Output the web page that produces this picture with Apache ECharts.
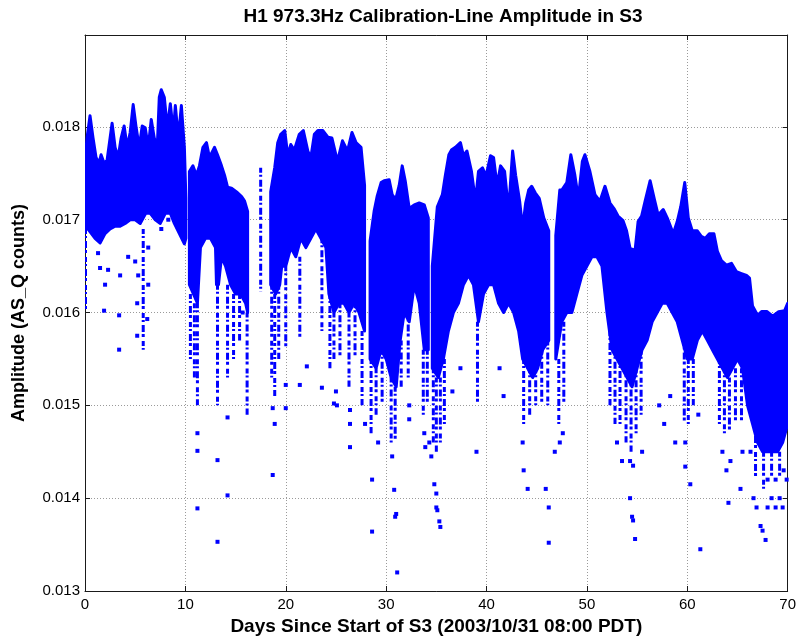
<!DOCTYPE html>
<html>
<head>
<meta charset="utf-8">
<script src="https://cdn.jsdelivr.net/npm/echarts@6/dist/echarts.min.js"></script>
<style>
html,body{margin:0;padding:0;background:#ffffff;}
#chart{width:799px;height:642px;}
</style>
</head>
<body>
<div id="chart"></div>
<script>
// ---- text ----
const titleText = 'H1 973.3Hz Calibration-Line Amplitude in S3';
const xAxisName = 'Days Since Start of S3 (2003/10/31 08:00 PDT)';
const yAxisName = 'Amplitude (AS_Q counts)';

// ---- axis ranges ----
const xRange = [0, 70, 10];
const yRange = [0.013, 0.01899, 0.001];

// ---- dense core: upper edge of the point cloud [day, amplitude]; null separates observing segments ----
const upperEdge = [
  [0.0,0.01763],[0.2,0.01788],[0.5,0.01812],[0.8,0.01788],[1.1,0.01767],[1.4,0.01761],[1.6,0.0177],[1.9,0.01761],
  [2.2,0.01764],[2.5,0.01788],[2.7,0.01804],[3.0,0.01778],[3.3,0.01767],[3.6,0.01788],[3.9,0.01801],[4.2,0.01778],
  [4.5,0.01794],[4.8,0.01824],[5.1,0.01799],[5.4,0.01778],[5.7,0.01801],[6.0,0.01799],[6.3,0.01778],[6.6,0.01808],
  [6.9,0.01788],[7.2,0.01778],[7.4,0.01832],[7.6,0.0184],[7.9,0.01832],[8.2,0.01799],[8.5,0.01825],[8.8,0.01794],
  [9.0,0.01823],[9.3,0.01788],[9.6,0.01823],[9.9,0.01778],[10.05,0.01723],
  null,
  [10.4,0.01752],[10.75,0.01758],[11.1,0.01748],[11.4,0.01758],[11.75,0.01778],[12.1,0.01783],[12.4,0.01767],
  [12.9,0.01778],[13.2,0.0177],[13.6,0.01758],[13.9,0.01748],[14.2,0.01735],[14.6,0.01734],[15.1,0.0173],
  [15.6,0.01725],[15.9,0.0172],[16.2,0.01709],
  null,
  [18.5,0.0173],[18.9,0.01756],[19.2,0.01783],[19.5,0.01792],[19.9,0.01796],[20.2,0.01769],[20.5,0.01781],
  [20.85,0.01775],[21.35,0.01792],[21.75,0.01796],[22.2,0.01774],[22.5,0.01767],[22.85,0.01792],[23.2,0.01796],
  [23.7,0.01796],[24.2,0.01789],[24.6,0.01788],[25.15,0.01763],[25.65,0.01785],[26.15,0.01774],[26.6,0.01794],
  [27.0,0.01783],[27.5,0.01778],[27.85,0.01737],
  null,
  [28.4,0.01677],[28.8,0.01709],[29.1,0.01725],[29.5,0.0174],[29.8,0.01742],[30.3,0.01743],[30.6,0.01727],
  [30.95,0.01722],[31.3,0.01737],[31.6,0.01758],[31.9,0.01742],[32.3,0.01712],[32.8,0.01716],[33.3,0.01718],
  [33.8,0.01716],[34.2,0.01702],
  null,
  [34.6,0.0165],[35.1,0.01714],[35.6,0.01727],[35.9,0.01748],[36.25,0.0177],[36.5,0.01775],[36.9,0.01778],
  [37.4,0.01783],[37.7,0.01769],[38.05,0.01774],[38.5,0.01752],[38.9,0.0172],[39.2,0.01752],[39.6,0.01756],
  [39.95,0.01747],[40.4,0.01769],[40.7,0.01767],[41.05,0.01737],[41.4,0.01758],[41.8,0.01752],[42.2,0.01709],
  [42.6,0.01774],[42.9,0.01748],[43.3,0.0172],[43.6,0.01691],[43.9,0.01718],[44.2,0.01732],[44.5,0.01736],
  [44.85,0.01729],[45.25,0.01723],[45.7,0.01702],[46.2,0.01688],
  null,
  [46.9,0.01683],[47.3,0.01732],[47.5,0.01732],[48.0,0.0174],[48.4,0.0177],[48.8,0.01748],[49.15,0.01723],
  [49.55,0.01763],[49.8,0.0177],[50.3,0.01752],[50.8,0.01727],[51.3,0.0172],[51.8,0.01736],[52.3,0.01718],
  [52.7,0.01712],[53.1,0.01704],[53.6,0.01699],[53.95,0.01688],[54.3,0.01669],[54.8,0.01667],[55.1,0.01698],
  [55.45,0.01704],[55.8,0.0172],[56.3,0.01742],[56.7,0.01723],[57.1,0.01705],[57.6,0.01711],[58.0,0.01702],
  [58.6,0.01685],[59.0,0.01698],[59.35,0.01714],[59.75,0.0174],[60.1,0.01702],[60.5,0.01688],[61.0,0.01688],
  [61.4,0.01682],[61.8,0.0168],[62.2,0.01685],[62.65,0.01685],[63.0,0.01666],[63.4,0.01656],[63.9,0.01651],
  [64.4,0.01653],[64.9,0.01644],[65.4,0.01642],[65.9,0.0164],[66.2,0.01637],[66.5,0.01607],[67.0,0.01597],
  [67.4,0.01601],[67.95,0.01601],[68.5,0.01596],[69.1,0.01601],[69.7,0.01602],[70.0,0.0161]
];

// ---- dense core: lower edge of the point cloud ----
const lowerEdge = [
  [0.0,0.0169],[0.3,0.0169],[1.0,0.0168],[1.5,0.01675],[2.0,0.01685],[2.5,0.0169],[3.0,0.01693],
  [3.5,0.01693],[4.0,0.01696],[4.5,0.017],[5.0,0.017],[5.5,0.01696],[6.05,0.01707],
  [6.5,0.01707],[7.0,0.017],[7.5,0.01696],[8.0,0.01707],[8.5,0.01707],[8.9,0.01696],[9.4,0.01685],[9.9,0.01674],
  [10.05,0.0168],
  null,
  [10.4,0.0163],[10.8,0.0162],[11.2,0.0161],[11.5,0.0167],[12.0,0.0168],[12.5,0.0168],[13.0,0.0167],[13.1,0.0163],
  [13.3,0.0163],[13.6,0.0166],[14.0,0.0165],[14.5,0.0163],[15.0,0.0162],[15.5,0.0162],[16.0,0.0161],[16.2,0.016],
  null,
  [18.5,0.0163],[19.0,0.0162],[19.4,0.0163],[19.6,0.0165],[20.0,0.0165],[20.5,0.0167],[21.0,0.0166],[21.5,0.0168],
  [22.0,0.0167],[22.5,0.0168],[23.0,0.0169],[23.5,0.0168],[24.0,0.0167],[24.3,0.0162],[24.8,0.016],[25.3,0.0161],
  [25.8,0.0161],[26.3,0.016],[26.8,0.0161],[27.3,0.016],[27.85,0.0158],
  null,
  [28.4,0.0155],[29.0,0.0154],[29.5,0.0156],[30.0,0.0155],[30.5,0.0153],[31.0,0.0152],[31.4,0.0157],[31.8,0.016],
  [32.3,0.0159],[32.8,0.0163],[33.3,0.0161],[33.8,0.0156],[34.2,0.0156],
  null,
  [34.6,0.0154],[35.2,0.0153],[35.7,0.0155],[36.2,0.0158],[36.7,0.016],[37.2,0.0161],[37.7,0.0163],[38.2,0.0164],
  [38.7,0.0163],[39.2,0.0159],[39.7,0.0162],[40.2,0.0163],[40.7,0.0163],[41.2,0.0161],[41.7,0.016],[42.2,0.0161],
  [42.7,0.016],[43.2,0.0158],[43.6,0.0155],[44.1,0.0154],[44.6,0.0153],[45.1,0.0154],[45.6,0.0156],[46.2,0.0157],
  null,
  [46.9,0.0155],[47.5,0.0159],[48.0,0.016],[48.5,0.016],[49.0,0.0162],[49.5,0.0164],[50.0,0.0165],[50.5,0.0166],
  [51.0,0.0166],[51.5,0.0165],[52.0,0.016],[52.5,0.0156],[53.0,0.0155],[53.5,0.0154],[54.0,0.0153],[54.5,0.0152],
  [55.0,0.0154],[55.5,0.0156],[56.0,0.0157],[56.5,0.0159],[57.0,0.016],[57.5,0.0161],[58.0,0.0161],[58.5,0.016],
  [59.0,0.0159],[59.5,0.0157],[60.0,0.0155],[60.5,0.0155],[61.0,0.0157],[61.5,0.0158],[62.0,0.0157],[62.5,0.0156],
  [63.0,0.0155],[63.5,0.0154],[64.0,0.0153],[64.5,0.0154],[65.0,0.0155],[65.5,0.0154],[66.0,0.015],[66.5,0.0148],
  [67.0,0.0146],[67.5,0.0145],[68.0,0.0145],[68.5,0.0145],[69.0,0.0145],[69.5,0.0146],[70.0,0.0148]
];

// ---- sparse vertical columns of points below the core ----
const streakDays = [0.05,5.8,10.5,10.9,11.2,13.2,14.2,14.8,15.4,16.15,17.5,18.6,18.9,19.3,20.0,21.4,23.6,24.4,24.8,
  25.4,26.3,26.9,27.6,28.5,29.0,29.6,30.5,30.9,31.5,32.2,33.7,34.1,34.7,35.0,35.4,35.8,39.1,43.7,44.3,44.9,45.5,
  46.1,47.2,47.7,52.3,52.8,53.3,53.9,54.4,54.9,55.4,59.7,60.1,60.6,63.2,63.7,64.2,64.8,65.4,66.8,67.6,68.4,69.2];
const streakTop = [0.0169,0.0169,0.0162,0.0161,0.0161,0.0163,0.0163,0.0162,0.0162,0.016,0.01756,0.0163,0.0162,0.0163,
  0.0165,0.0166,0.0168,0.0162,0.016,0.0161,0.016,0.0161,0.0158,0.0155,0.0154,0.0156,0.0153,0.0152,0.0157,0.016,
  0.0156,0.0156,0.0154,0.0153,0.0153,0.0155,0.0159,0.0155,0.0154,0.0154,0.0156,0.0157,0.0155,0.0159,0.0158,0.0156,
  0.0155,0.0154,0.0153,0.0154,0.0156,0.0157,0.0155,0.0155,0.0155,0.0154,0.0153,0.0154,0.0154,0.0148,0.0145,0.0145,
  0.0145];
const streakBottom = [0.016,0.0156,0.0155,0.0153,0.015,0.015,0.0153,0.0155,0.0157,0.0149,0.01622,0.0153,0.0151,0.0155,
  0.0156,0.0157,0.0158,0.0154,0.0155,0.0155,0.0152,0.0155,0.015,0.0147,0.0149,0.015,0.0146,0.0146,0.0152,0.0153,
  0.0149,0.015,0.0146,0.0145,0.0146,0.0148,0.015,0.0148,0.0149,0.015,0.015,0.015,0.0148,0.015,0.015,0.0148,0.0148,
  0.0146,0.0145,0.0147,0.0149,0.0148,0.0148,0.015,0.0148,0.0147,0.0147,0.0148,0.0148,0.0142,0.0141,0.0142,0.0142];

// ---- individual scattered points [day, amplitude] ----
const outliers = [
  [1.3,0.01664],[1.5,0.01648],[1.9,0.01602],[2.0,0.0163],[2.3,0.01646],[3.4,0.01597],
  [3.4,0.0156],[3.5,0.0164],[4.3,0.0166],[5.0,0.01655],[5.2,0.0161],[5.2,0.01575],[5.3,0.0164],
  [6.2,0.01593],[6.3,0.0163],[6.3,0.0167],[7.6,0.0169],[8.3,0.017],
  [11.2,0.0147],[11.2,0.01451],[11.2,0.01389],
  [13.2,0.01441],[13.2,0.01353],
  [14.2,0.01487],[14.2,0.01403],[15.7,0.016],
  [18.7,0.01497],[18.9,0.0148],[18.7,0.01425],
  [20.0,0.01522],[20.0,0.01497],[21.4,0.01522],[22.1,0.01542],[23.6,0.01519],
  [24.8,0.01502],[25.0,0.01515],[25.1,0.015],
  [26.4,0.01495],[26.4,0.0148],[26.4,0.01455],[27.9,0.0148],
  [28.6,0.0142],[28.6,0.01364],[29.2,0.0146],
  [30.6,0.01445],[30.8,0.01409],[30.9,0.0138],[31.0,0.01383],[31.1,0.0132],
  [32.3,0.015],[32.3,0.01485],[33.8,0.0147],[33.9,0.01455],
  [34.3,0.0146],[34.5,0.01445],[34.8,0.01415],[35.0,0.01405],[35.0,0.0139],[35.1,0.01387],[35.3,0.01375],
  [35.4,0.01369],
  [36.6,0.01515],[37.4,0.0154],[39.0,0.0145],[41.3,0.0154],[41.7,0.0151],
  [43.6,0.0146],[43.7,0.0143],[44.1,0.0141],[45.9,0.0141],[46.2,0.01352],[46.2,0.0139],[46.8,0.0145],
  [47.3,0.0146],[47.6,0.0147],
  [53.0,0.0146],[53.5,0.0144],[54.3,0.0144],[54.6,0.01435],[54.3,0.014],[54.5,0.0138],[54.6,0.01376],
  [54.8,0.01356],[55.5,0.0145],
  [57.2,0.015],[57.7,0.0148],[58.3,0.0151],[58.8,0.0146],
  [59.8,0.01434],[60.3,0.01415],[59.8,0.0146],[61.3,0.01345],[61.1,0.0149],
  [63.5,0.0145],[63.9,0.0143],[64.1,0.01395],[64.3,0.0144],[65.3,0.0141],[65.5,0.0145],
  [66.3,0.0145],[66.6,0.014],[66.9,0.0139],[67.3,0.0137],[67.5,0.01365],[67.8,0.01355],[68.0,0.0139],
  [68.0,0.0142],[68.4,0.014],[68.8,0.0139],[68.8,0.0142],[69.2,0.014],[69.5,0.0139],[69.6,0.0143],
  [69.9,0.0142]
];

// ---- build segments ----
function splitSegments(arr) {
  const segs = []; let cur = [];
  arr.forEach(function (p) {
    if (p === null) { if (cur.length) segs.push(cur); cur = []; }
    else cur.push(p);
  });
  if (cur.length) segs.push(cur);
  return segs;
}
const upSegs = splitSegments(upperEdge);
const loSegs = splitSegments(lowerEdge);
const segments = upSegs.map(function (u, i) { return { upper: u, lower: loSegs[i] }; });
const streakData = streakDays.map(function (d, i) { return [d, streakTop[i], streakBottom[i]]; });

const BLUE = '#0000ff';
const AXIS = '#1a1a1a';
const FONT = '"Liberation Sans", Arial, Helvetica, sans-serif';

function yLabel(v) {
  const k = Math.round(v * 1000);
  return Math.abs(v * 1000 - k) < 1e-6 ? (k / 1000).toFixed(3) : '';
}

const chart = echarts.init(document.getElementById('chart'), null, { renderer: 'canvas' });
chart.setOption({
  animation: false,
  backgroundColor: '#ffffff',
  title: {
    text: titleText,
    left: 438, top: 2, textAlign: 'center',
    textStyle: { fontFamily: FONT, fontSize: 19, fontWeight: 'bold', color: '#000' }
  },
  grid: { left: 85, right: 9, top: 35, bottom: 51, containLabel: false },
  xAxis: [{
    type: 'value', min: xRange[0], max: xRange[1], interval: xRange[2],
    name: xAxisName, nameLocation: 'middle', nameGap: 24,
    nameTextStyle: { fontFamily: FONT, fontSize: 19, fontWeight: 'bold', color: '#000' },
    axisLine: { show: true, onZero: false, lineStyle: { color: AXIS, width: 1 } },
    axisTick: { show: true, inside: true, length: 5, lineStyle: { color: AXIS } },
    axisLabel: { fontFamily: FONT, fontSize: 15, color: '#000', margin: 6 },
    splitLine: { show: true, lineStyle: { color: '#9a9a9a', type: [1, 2], width: 1 } }
  }, {
    type: 'value', position: 'top', min: xRange[0], max: xRange[1], interval: xRange[2],
    axisLine: { show: true, onZero: false, lineStyle: { color: AXIS, width: 1 } },
    axisTick: { show: true, inside: true, length: 5, lineStyle: { color: AXIS } },
    axisLabel: { show: false }, splitLine: { show: false }
  }],
  yAxis: [{
    type: 'value', min: yRange[0], max: yRange[1], interval: yRange[2],
    name: yAxisName, nameLocation: 'middle', nameGap: 57, nameRotate: 90,
    nameTextStyle: { fontFamily: FONT, fontSize: 18, fontWeight: 'bold', color: '#000' },
    axisLine: { show: true, onZero: false, lineStyle: { color: AXIS, width: 1 } },
    axisTick: { show: true, inside: true, length: 5, lineStyle: { color: AXIS } },
    axisLabel: { fontFamily: FONT, fontSize: 15, color: '#000', margin: 5, formatter: yLabel, showMaxLabel: false },
    splitLine: { show: true, lineStyle: { color: '#9a9a9a', type: [1, 2], width: 1 } }
  }, {
    type: 'value', position: 'right', min: yRange[0], max: yRange[1], interval: yRange[2],
    axisLine: { show: true, onZero: false, lineStyle: { color: AXIS, width: 1 } },
    axisTick: { show: true, inside: true, length: 5, lineStyle: { color: AXIS } },
    axisLabel: { show: false }, splitLine: { show: false }
  }],
  series: [{
    type: 'custom',
    xAxisIndex: 0, yAxisIndex: 0,
    clip: true,
    data: segments.map(function (s) { return [s.upper[0][0], s.upper[0][1]]; }),
    renderItem: function (params, api) {
      const seg = segments[params.dataIndex];
      const top = seg.upper.map(function (p) { return api.coord(p); });
      const bot = seg.lower.slice().reverse().map(function (p) { return api.coord(p); });
      return {
        type: 'polygon',
        shape: { points: top.concat(bot) },
        style: { fill: BLUE, stroke: BLUE, lineWidth: 3, lineJoin: 'round' }
      };
    },
    z: 3
  }, {
    type: 'custom',
    xAxisIndex: 0, yAxisIndex: 0,
    clip: true,
    data: streakData,
    renderItem: function (params, api) {
      const p1 = api.coord([api.value(0), api.value(1)]);
      const p2 = api.coord([api.value(0), api.value(2)]);
      return {
        type: 'line',
        shape: { x1: p1[0], y1: p1[1], x2: p2[0], y2: p2[1] },
        style: { stroke: BLUE, lineWidth: 3, lineDash: [5, 2, 2, 3, 7, 2, 3, 4] }
      };
    },
    z: 3
  }, {
    type: 'scatter',
    xAxisIndex: 0, yAxisIndex: 0,
    data: outliers,
    symbol: 'rect', symbolSize: 4,
    itemStyle: { color: BLUE, opacity: 1 },
    z: 3
  }]
});
</script>
</body>
</html>
